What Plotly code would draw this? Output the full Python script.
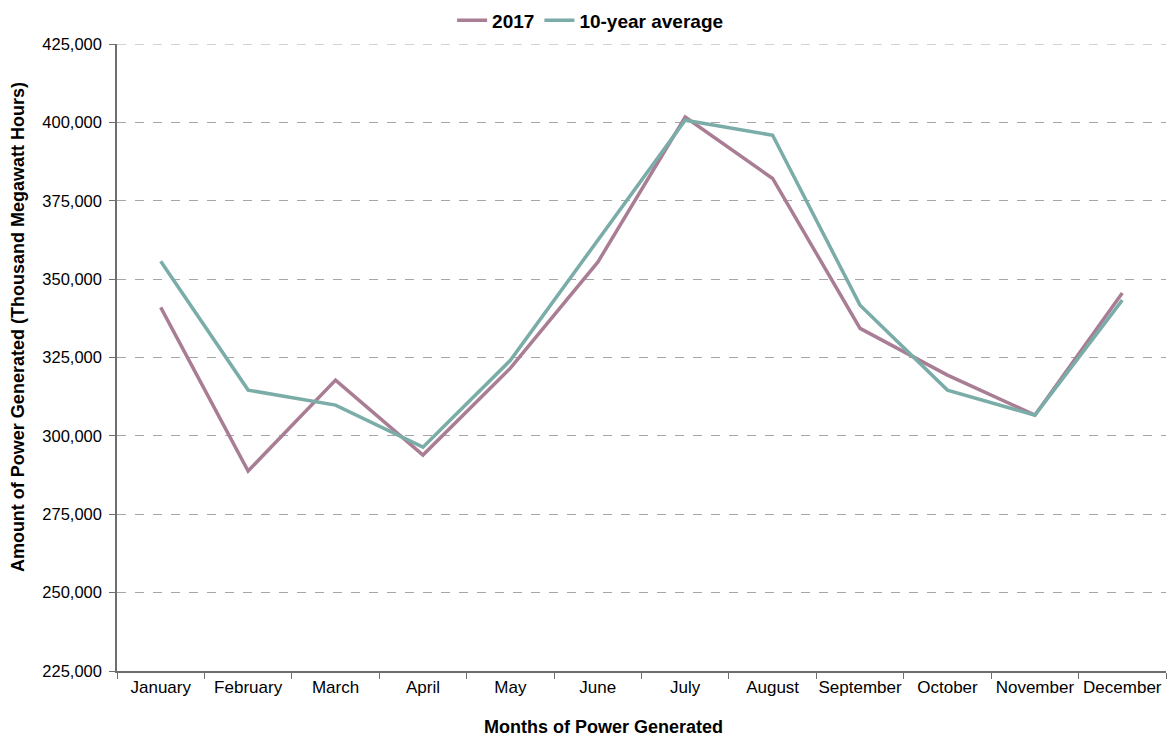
import plotly.graph_objects as go

months = ["January", "February", "March", "April", "May", "June", "July",
          "August", "September", "October", "November", "December"]
power_2017 = [341000, 288800, 317800, 293900, 321600, 355400, 401700,
              382100, 334300, 319400, 306600, 345600]
power_10yr_avg = [355700, 314600, 309800, 296400, 324100, 362400, 400700,
                  395900, 341700, 314600, 306600, 343300]
y_ticks = [225000, 250000, 275000, 300000, 325000, 350000, 375000, 400000, 425000]

x_title = "Months of Power Generated"
y_title = "Amount of Power Generated (Thousand Megawatt Hours)"

color_2017 = "#A97D94"
color_avg = "#7AACA8"
axis_color = "#6E6E6E"
grid_color = "#A6A6A6"
font_family = "Liberation Sans, Arial, sans-serif"

fig = go.Figure()
fig.add_trace(go.Scatter(x=months, y=power_2017, name="2017", mode="lines",
                         line=dict(color=color_2017, width=3.5)))
fig.add_trace(go.Scatter(x=months, y=power_10yr_avg, name="10-year average", mode="lines",
                         line=dict(color=color_avg, width=3.5)))

# top gridline sits on the plot edge, draw it explicitly
fig.add_shape(type="line", xref="paper", yref="y", x0=0, x1=1,
              y0=y_ticks[-1], y1=y_ticks[-1],
              line=dict(color=grid_color, width=1, dash="dash"), layer="below")

# axis titles as free annotations (offset from the plot centre)
title_font = dict(size=18, family=font_family, weight="bold", color="black")
fig.add_annotation(text=x_title, xref="paper", yref="paper", x=0.464, y=-0.089,
                   xanchor="center", yanchor="middle", showarrow=False, font=title_font)
fig.add_annotation(text=y_title, xref="paper", yref="paper", x=-0.095, y=0.549,
                   xanchor="center", yanchor="middle", showarrow=False, textangle=-90,
                   font=title_font)

fig.update_layout(
    width=1167, height=739,
    margin=dict(l=117, r=1, t=44, b=68),
    paper_bgcolor="white", plot_bgcolor="white",
    font=dict(family=font_family, size=16, color="black"),
    legend=dict(orientation="h", x=0.451, xanchor="center", y=1.068, yanchor="top",
                font=dict(size=19, family=font_family, weight="bold"),
                itemwidth=30, tracegroupgap=0, borderwidth=0),
    showlegend=True,
)

fig.update_xaxes(
    type="category", range=[-0.5, 11.5], tickson="boundaries",
    ticks="outside", ticklen=6, tickcolor=axis_color, tickwidth=1,
    showline=True, linecolor=axis_color, linewidth=1.5,
    showgrid=False, tickfont=dict(size=17), tickangle=0, automargin=False,
)
fig.update_yaxes(
    range=[225000, 425000], tickvals=y_ticks, tickformat=",",
    ticks="outside", ticklen=6, tickcolor=axis_color, tickwidth=1,
    showline=True, linecolor=axis_color, linewidth=1.5,
    showgrid=True, gridcolor=grid_color, griddash="dash", gridwidth=1,
    zeroline=False, tickfont=dict(size=16.5), automargin=False, ticklabelstandoff=4,
)

fig.write_html("out.html")
